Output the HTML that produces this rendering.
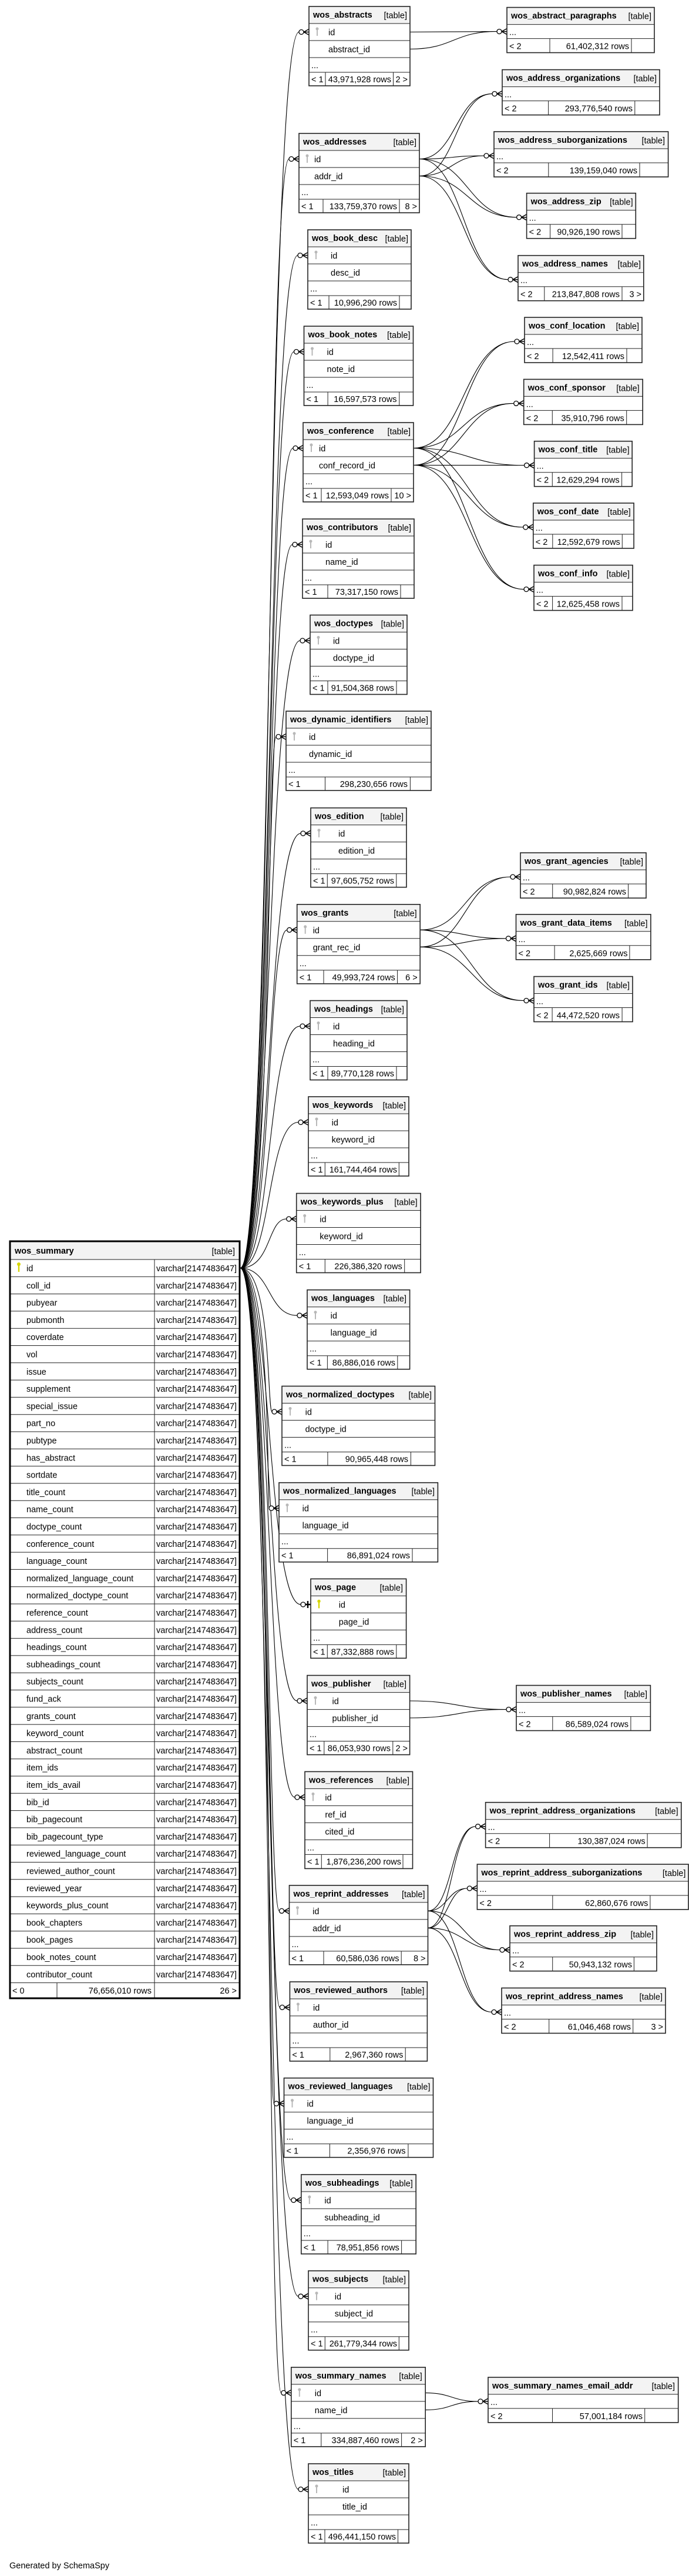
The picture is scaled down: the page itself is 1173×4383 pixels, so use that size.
<!DOCTYPE html>
<html><head><meta charset="utf-8"><style>
html,body{margin:0;padding:0;background:#fff}
svg{display:block}
text{font-family:"Liberation Sans",Arial,sans-serif;font-size:14.5px;fill:#000}
.b{font-weight:bold}
.e{text-anchor:end}
.ln{stroke:#222;stroke-width:1;fill:none}
.bx{fill:none;stroke:#222;stroke-width:1.6}
.hd{fill:#f3f3f3}
.wh{fill:#fff}
.ed{fill:none;stroke:#000;stroke-width:1.1}
.mk{fill:#fff;stroke:#000;stroke-width:1.3}
.cr{fill:none;stroke:#000;stroke-width:1.5}
.kg{stroke:#b8b8b8;stroke-width:2}
.kgc{fill:#b8b8b8}
.ky{stroke:#d6d600;stroke-width:2.4}
.kyc{fill:#d6d600}
</style></head><body>
<svg width="1173" height="4383" viewBox="0 0 1173 4383" xmlns="http://www.w3.org/2000/svg">
<!-- summary edges -->
<g class="ed">
<path d="M409 2157.6C462 2157.6 455 54.5 509 54.5"/>
<path d="M409 2157.6C462 2157.6 455 270.5 492 270.5"/>
<path d="M409 2157.6C462 2157.6 455 434.5 507 434.5"/>
<path d="M409 2157.6C462 2157.6 455 598.5 500.5 598.5"/>
<path d="M409 2157.6C462 2157.6 455 762.5 499 762.5"/>
<path d="M409 2157.6C462 2157.6 455 926.5 498 926.5"/>
<path d="M409 2157.6C462 2157.6 455 1090 511 1090"/>
<path d="M409 2157.6C462 2157.6 455 1253.5 470 1253.5"/>
<path d="M409 2157.6C462 2157.6 455 1418 512 1418"/>
<path d="M409 2157.6C462 2157.6 455 1582.3 488.7 1582.3"/>
<path d="M409 2157.6C462 2157.6 455 1746 511 1746"/>
<path d="M409 2157.6C462 2157.6 455 1909.5 508 1909.5"/>
<path d="M409 2157.6C462 2157.6 455 2074 487.7 2074"/>
<path d="M409 2157.6C462 2157.6 455 2238.2 506 2238.2"/>
<path d="M409 2157.6C462 2157.6 455 2402 463 2402"/>
<path d="M409 2157.6C462 2157.6 455 2566.2 458 2566.2"/>
<path d="M409 2157.6C462 2157.6 455 2730 512 2730"/>
<path d="M409 2157.6C462 2157.6 455 2894 506 2894"/>
<path d="M409 2157.6C462 2157.6 455 3058 502 3058"/>
<path d="M409 2157.6C462 2157.6 455 3251.4 475.5 3251.4"/>
<path d="M409 2157.6C462 2157.6 455 3415.5 476.4 3415.5"/>
<path d="M409 2157.6C462 2157.6 455 3579.2 466.5 3579.2"/>
<path d="M409 2157.6C462 2157.6 455 3743.5 495.8 3743.5"/>
<path d="M409 2157.6C462 2157.6 455 3907.2 508 3907.2"/>
<path d="M409 2157.6C462 2157.6 455 4071.4 478.8 4071.4"/>
<path d="M409 2157.6C462 2157.6 455 4235.5 508 4235.5"/>
<!-- parent-child edges -->
<path d="M698 54.5C772 54.5 772 53.6 846 53.6M698 83.5C772 83.5 772 53.6 846 53.6"/>
<path d="M714 270.5C776 270.5 776 159.6 838 159.6M714 299.5C776 299.5 776 159.6 838 159.6"/>
<path d="M714 270.5C769 270.5 769 265 824 265M714 299.5C769 299.5 769 265 824 265"/>
<path d="M714 270.5C797 270.5 797 369.7 879.6 369.7M714 299.5C797 299.5 797 369.7 879.6 369.7"/>
<path d="M714 270.5C789.5 270.5 789.5 475.7 865 475.7M714 299.5C789.5 299.5 789.5 475.7 865 475.7"/>
<path d="M704 762.5C790 762.5 790 581 876 581M704 791.5C790 791.5 790 581 876 581"/>
<path d="M704 762.5C789 762.5 789 686.4 874.7 686.4M704 791.5C789 791.5 789 686.4 874.7 686.4"/>
<path d="M704 762.5C798 762.5 798 791.7 892.6 791.7M704 791.5C798 791.5 798 791.7 892.6 791.7"/>
<path d="M704 762.5C797 762.5 797 897 890.8 897M704 791.5C797 791.5 797 897 890.8 897"/>
<path d="M704 762.5C798 762.5 798 1002.6 892 1002.6M704 791.5C798 791.5 798 1002.6 892 1002.6"/>
<path d="M715.2 1582.3C792 1582.3 792 1492 869 1492M715.2 1611.3C792 1611.3 792 1492 869 1492"/>
<path d="M715.2 1582.3C788 1582.3 788 1596.8 861.5 1596.8M715.2 1611.3C788 1611.3 788 1596.8 861.5 1596.8"/>
<path d="M715.2 1582.3C803.6 1582.3 803.6 1702.5 892 1702.5M715.2 1611.3C803.6 1611.3 803.6 1702.5 892 1702.5"/>
<path d="M697.6 2894C780 2894 780 2908.6 862 2908.6M697.6 2923C780 2923 780 2908.6 862 2908.6"/>
<path d="M728.5 3251.4C769 3251.4 769 3107.7 809.6 3107.7M728.5 3280.4C769 3280.4 769 3107.7 809.6 3107.7"/>
<path d="M728.5 3251.4C762 3251.4 762 3213 795.4 3213M728.5 3280.4C762 3280.4 762 3213 795.4 3213"/>
<path d="M728.5 3251.4C790 3251.4 790 3317.7 851 3317.7M728.5 3280.4C790 3280.4 790 3317.7 851 3317.7"/>
<path d="M728.5 3251.4C783 3251.4 783 3423.5 837 3423.5M728.5 3280.4C783 3280.4 783 3423.5 837 3423.5"/>
<path d="M724.2 4071.4C769 4071.4 769 4085.9 814 4085.9M724.2 4100.4C769 4100.4 769 4085.9 814 4085.9"/>
</g>
<!-- markers -->
<g class="cr">
<path d="M517 54.5L526 49.5M517 54.5L526 54.5M517 54.5L526 59.5"/>
<path d="M500 270.5L509 265.5M500 270.5L509 270.5M500 270.5L509 275.5"/>
<path d="M515 434.5L524 429.5M515 434.5L524 434.5M515 434.5L524 439.5"/>
<path d="M508.5 598.5L517.5 593.5M508.5 598.5L517.5 598.5M508.5 598.5L517.5 603.5"/>
<path d="M507 762.5L516 757.5M507 762.5L516 762.5M507 762.5L516 767.5"/>
<path d="M506 926.5L515 921.5M506 926.5L515 926.5M506 926.5L515 931.5"/>
<path d="M519 1090L528 1085M519 1090L528 1090M519 1090L528 1095"/>
<path d="M478 1253.5L487 1248.5M478 1253.5L487 1253.5M478 1253.5L487 1258.5"/>
<path d="M520 1418L529 1413M520 1418L529 1418M520 1418L529 1423"/>
<path d="M496.7 1582.3L505.7 1577.3M496.7 1582.3L505.7 1582.3M496.7 1582.3L505.7 1587.3"/>
<path d="M519 1746L528 1741M519 1746L528 1746M519 1746L528 1751"/>
<path d="M516 1909.5L525 1904.5M516 1909.5L525 1909.5M516 1909.5L525 1914.5"/>
<path d="M495.7 2074L504.7 2069M495.7 2074L504.7 2074M495.7 2074L504.7 2079"/>
<path d="M514 2238.2L523 2233.2M514 2238.2L523 2238.2M514 2238.2L523 2243.2"/>
<path d="M471 2402L480 2397M471 2402L480 2402M471 2402L480 2407"/>
<path d="M466 2566.2L475 2561.2M466 2566.2L475 2566.2M466 2566.2L475 2571.2"/>
<path d="M520 2730L529 2730M524 2724V2736" style="stroke-width:2.4"/>
<path d="M514 2894L523 2889M514 2894L523 2894M514 2894L523 2899"/>
<path d="M510 3058L519 3053M510 3058L519 3058M510 3058L519 3063"/>
<path d="M483.5 3251.4L492.5 3246.4M483.5 3251.4L492.5 3251.4M483.5 3251.4L492.5 3256.4"/>
<path d="M484.4 3415.5L493.4 3410.5M484.4 3415.5L493.4 3415.5M484.4 3415.5L493.4 3420.5"/>
<path d="M474.5 3579.2L483.5 3574.2M474.5 3579.2L483.5 3579.2M474.5 3579.2L483.5 3584.2"/>
<path d="M503.8 3743.5L512.8 3738.5M503.8 3743.5L512.8 3743.5M503.8 3743.5L512.8 3748.5"/>
<path d="M516 3907.2L525 3902.2M516 3907.2L525 3907.2M516 3907.2L525 3912.2"/>
<path d="M486.8 4071.4L495.8 4066.4M486.8 4071.4L495.8 4071.4M486.8 4071.4L495.8 4076.4"/>
<path d="M516 4235.5L525 4230.5M516 4235.5L525 4235.5M516 4235.5L525 4240.5"/>
<path d="M854 53.6L863 48.6M854 53.6L863 53.6M854 53.6L863 58.6"/>
<path d="M846 159.6L855 154.6M846 159.6L855 159.6M846 159.6L855 164.6"/>
<path d="M832 265L841 260M832 265L841 265M832 265L841 270"/>
<path d="M887.6 369.7L896.6 364.7M887.6 369.7L896.6 369.7M887.6 369.7L896.6 374.7"/>
<path d="M873 475.7L882 470.7M873 475.7L882 475.7M873 475.7L882 480.7"/>
<path d="M884 581L893 576M884 581L893 581M884 581L893 586"/>
<path d="M882.7 686.4L891.7 681.4M882.7 686.4L891.7 686.4M882.7 686.4L891.7 691.4"/>
<path d="M900.6 791.7L909.6 786.7M900.6 791.7L909.6 791.7M900.6 791.7L909.6 796.7"/>
<path d="M898.8 897L907.8 892M898.8 897L907.8 897M898.8 897L907.8 902"/>
<path d="M900 1002.6L909 997.6M900 1002.6L909 1002.6M900 1002.6L909 1007.6"/>
<path d="M877 1492L886 1487M877 1492L886 1492M877 1492L886 1497"/>
<path d="M869.5 1596.8L878.5 1591.8M869.5 1596.8L878.5 1596.8M869.5 1596.8L878.5 1601.8"/>
<path d="M900 1702.5L909 1697.5M900 1702.5L909 1702.5M900 1702.5L909 1707.5"/>
<path d="M870 2908.6L879 2903.6M870 2908.6L879 2908.6M870 2908.6L879 2913.6"/>
<path d="M817.6 3107.7L826.6 3102.7M817.6 3107.7L826.6 3107.7M817.6 3107.7L826.6 3112.7"/>
<path d="M803.4 3213L812.4 3208M803.4 3213L812.4 3213M803.4 3213L812.4 3218"/>
<path d="M859 3317.7L868 3312.7M859 3317.7L868 3317.7M859 3317.7L868 3322.7"/>
<path d="M845 3423.5L854 3418.5M845 3423.5L854 3423.5M845 3423.5L854 3428.5"/>
<path d="M822 4085.9L831 4080.9M822 4085.9L831 4085.9M822 4085.9L831 4090.9"/>
</g>
<g class="mk">
<circle cx="513" cy="54.5" r="4"/><circle cx="496" cy="270.5" r="4"/><circle cx="511" cy="434.5" r="4"/><circle cx="504.5" cy="598.5" r="4"/><circle cx="503" cy="762.5" r="4"/><circle cx="502" cy="926.5" r="4"/><circle cx="515" cy="1090" r="4"/><circle cx="474" cy="1253.5" r="4"/><circle cx="516" cy="1418" r="4"/><circle cx="492.7" cy="1582.3" r="4"/><circle cx="515" cy="1746" r="4"/><circle cx="512" cy="1909.5" r="4"/><circle cx="491.7" cy="2074" r="4"/><circle cx="510" cy="2238.2" r="4"/><circle cx="467" cy="2402" r="4"/><circle cx="462" cy="2566.2" r="4"/><circle cx="516" cy="2730" r="4"/><circle cx="510" cy="2894" r="4"/><circle cx="506" cy="3058" r="4"/><circle cx="479.5" cy="3251.4" r="4"/><circle cx="480.4" cy="3415.5" r="4"/><circle cx="470.5" cy="3579.2" r="4"/><circle cx="499.8" cy="3743.5" r="4"/><circle cx="512" cy="3907.2" r="4"/><circle cx="482.8" cy="4071.4" r="4"/><circle cx="512" cy="4235.5" r="4"/>
<circle cx="850" cy="53.6" r="4"/><circle cx="842" cy="159.6" r="4"/><circle cx="828" cy="265" r="4"/><circle cx="883.6" cy="369.7" r="4"/><circle cx="869" cy="475.7" r="4"/><circle cx="880" cy="581" r="4"/><circle cx="878.7" cy="686.4" r="4"/><circle cx="896.6" cy="791.7" r="4"/><circle cx="894.8" cy="897" r="4"/><circle cx="896" cy="1002.6" r="4"/><circle cx="873" cy="1492" r="4"/><circle cx="865.5" cy="1596.8" r="4"/><circle cx="896" cy="1702.5" r="4"/><circle cx="866" cy="2908.6" r="4"/><circle cx="813.6" cy="3107.7" r="4"/><circle cx="799.4" cy="3213" r="4"/><circle cx="855" cy="3317.7" r="4"/><circle cx="841" cy="3423.5" r="4"/><circle cx="818" cy="4085.9" r="4"/>
</g>

<!-- wos_summary -->
<g transform="translate(17,2112)">
<rect width="391" height="1288" class="wh"/>
<rect width="391" height="31" class="hd"/>
<path class="ln" d="M0 31H391M0 60.3H391M0 89.6H391M0 118.9H391M0 148.2H391M0 177.5H391M0 206.8H391M0 236.1H391M0 265.4H391M0 294.7H391M0 324H391M0 353.3H391M0 382.6H391M0 411.9H391M0 441.2H391M0 470.5H391M0 499.8H391M0 529.1H391M0 558.4H391M0 587.7H391M0 617H391M0 646.3H391M0 675.6H391M0 704.9H391M0 734.2H391M0 763.5H391M0 792.8H391M0 822.1H391M0 851.4H391M0 880.7H391M0 910H391M0 939.3H391M0 968.6H391M0 997.9H391M0 1027.2H391M0 1056.5H391M0 1085.8H391M0 1115.1H391M0 1144.4H391M0 1173.7H391M0 1203H391M0 1232.3H391M0 1261.6H391M246 31V1288M80 1261.6V1288"/>
<rect width="391" height="1288" fill="none" stroke="#000" stroke-width="3"/>
<text class="b" x="8" y="21">wos_summary</text><text class="e" x="383" y="22">[table]</text>
<path class="ky" d="M15 41V52"/><circle class="kyc" cx="15" cy="39" r="3"/>
<text x="28" y="51">id</text><text x="249" y="51">varchar[2147483647]</text>
<text x="28" y="80.3">coll_id</text><text x="249" y="80.3">varchar[2147483647]</text>
<text x="28" y="109.6">pubyear</text><text x="249" y="109.6">varchar[2147483647]</text>
<text x="28" y="138.9">pubmonth</text><text x="249" y="138.9">varchar[2147483647]</text>
<text x="28" y="168.2">coverdate</text><text x="249" y="168.2">varchar[2147483647]</text>
<text x="28" y="197.5">vol</text><text x="249" y="197.5">varchar[2147483647]</text>
<text x="28" y="226.8">issue</text><text x="249" y="226.8">varchar[2147483647]</text>
<text x="28" y="256.1">supplement</text><text x="249" y="256.1">varchar[2147483647]</text>
<text x="28" y="285.4">special_issue</text><text x="249" y="285.4">varchar[2147483647]</text>
<text x="28" y="314.7">part_no</text><text x="249" y="314.7">varchar[2147483647]</text>
<text x="28" y="344">pubtype</text><text x="249" y="344">varchar[2147483647]</text>
<text x="28" y="373.3">has_abstract</text><text x="249" y="373.3">varchar[2147483647]</text>
<text x="28" y="402.6">sortdate</text><text x="249" y="402.6">varchar[2147483647]</text>
<text x="28" y="431.9">title_count</text><text x="249" y="431.9">varchar[2147483647]</text>
<text x="28" y="461.2">name_count</text><text x="249" y="461.2">varchar[2147483647]</text>
<text x="28" y="490.5">doctype_count</text><text x="249" y="490.5">varchar[2147483647]</text>
<text x="28" y="519.8">conference_count</text><text x="249" y="519.8">varchar[2147483647]</text>
<text x="28" y="549.1">language_count</text><text x="249" y="549.1">varchar[2147483647]</text>
<text x="28" y="578.4">normalized_language_count</text><text x="249" y="578.4">varchar[2147483647]</text>
<text x="28" y="607.7">normalized_doctype_count</text><text x="249" y="607.7">varchar[2147483647]</text>
<text x="28" y="637">reference_count</text><text x="249" y="637">varchar[2147483647]</text>
<text x="28" y="666.3">address_count</text><text x="249" y="666.3">varchar[2147483647]</text>
<text x="28" y="695.6">headings_count</text><text x="249" y="695.6">varchar[2147483647]</text>
<text x="28" y="724.9">subheadings_count</text><text x="249" y="724.9">varchar[2147483647]</text>
<text x="28" y="754.2">subjects_count</text><text x="249" y="754.2">varchar[2147483647]</text>
<text x="28" y="783.5">fund_ack</text><text x="249" y="783.5">varchar[2147483647]</text>
<text x="28" y="812.8">grants_count</text><text x="249" y="812.8">varchar[2147483647]</text>
<text x="28" y="842.1">keyword_count</text><text x="249" y="842.1">varchar[2147483647]</text>
<text x="28" y="871.4">abstract_count</text><text x="249" y="871.4">varchar[2147483647]</text>
<text x="28" y="900.7">item_ids</text><text x="249" y="900.7">varchar[2147483647]</text>
<text x="28" y="930">item_ids_avail</text><text x="249" y="930">varchar[2147483647]</text>
<text x="28" y="959.3">bib_id</text><text x="249" y="959.3">varchar[2147483647]</text>
<text x="28" y="988.6">bib_pagecount</text><text x="249" y="988.6">varchar[2147483647]</text>
<text x="28" y="1017.9">bib_pagecount_type</text><text x="249" y="1017.9">varchar[2147483647]</text>
<text x="28" y="1047.2">reviewed_language_count</text><text x="249" y="1047.2">varchar[2147483647]</text>
<text x="28" y="1076.5">reviewed_author_count</text><text x="249" y="1076.5">varchar[2147483647]</text>
<text x="28" y="1105.8">reviewed_year</text><text x="249" y="1105.8">varchar[2147483647]</text>
<text x="28" y="1135.1">keywords_plus_count</text><text x="249" y="1135.1">varchar[2147483647]</text>
<text x="28" y="1164.4">book_chapters</text><text x="249" y="1164.4">varchar[2147483647]</text>
<text x="28" y="1193.7">book_pages</text><text x="249" y="1193.7">varchar[2147483647]</text>
<text x="28" y="1223">book_notes_count</text><text x="249" y="1223">varchar[2147483647]</text>
<text x="28" y="1252.3">contributor_count</text><text x="249" y="1252.3">varchar[2147483647]</text>
<text x="4" y="1280">&lt; 0</text><text class="e" x="241" y="1280">76,656,010 rows</text><text class="e" x="386" y="1280">26 &gt;</text>
</g>

<!-- parent tables (2 rows) -->
<g transform="translate(526,11)"><rect width="172" height="135" class="wh"/><rect width="172" height="29" class="hd"/><path class="ln" d="M0 29H172M0 58H172M0 87H172M0 112H172M28 112V135M143.5 112V135"/><rect width="172" height="135" class="bx"/><text class="b" x="7" y="19">wos_abstracts</text><text class="e" x="167" y="20">[table]</text><path class="kg" d="M14 40V50"/><circle class="kgc" cx="14" cy="38" r="2.5"/><text x="33" y="49">id</text><text x="33" y="78">abstract_id</text><text x="4" y="105">...</text><text x="4" y="129">&lt; 1</text><text class="e" x="140" y="129">43,971,928 rows</text><text class="e" x="168" y="129">2 &gt;</text></g>

<g transform="translate(509,227)"><rect width="205" height="135" class="wh"/><rect width="205" height="29" class="hd"/><path class="ln" d="M0 29H205M0 58H205M0 87H205M0 112H205M41 112V135M171 112V135"/><rect width="205" height="135" class="bx"/><text class="b" x="7" y="19">wos_addresses</text><text class="e" x="200" y="20">[table]</text><path class="kg" d="M14 40V50"/><circle class="kgc" cx="14" cy="38" r="2.5"/><text x="26" y="49">id</text><text x="26" y="78">addr_id</text><text x="4" y="105">...</text><text x="4" y="129">&lt; 1</text><text class="e" x="167" y="129">133,759,370 rows</text><text class="e" x="201" y="129">8 &gt;</text></g>

<g transform="translate(524,391)"><rect width="176" height="135" class="wh"/><rect width="176" height="29" class="hd"/><path class="ln" d="M0 29H176M0 58H176M0 87H176M0 112H176M36 112V135M156 112V135"/><rect width="176" height="135" class="bx"/><text class="b" x="7" y="19">wos_book_desc</text><text class="e" x="171" y="20">[table]</text><path class="kg" d="M14 40V50"/><circle class="kgc" cx="14" cy="38" r="2.5"/><text x="39" y="49">id</text><text x="39" y="78">desc_id</text><text x="4" y="105">...</text><text x="4" y="129">&lt; 1</text><text class="e" x="152" y="129">10,996,290 rows</text></g>

<g transform="translate(517.5,555)"><rect width="186" height="135" class="wh"/><rect width="186" height="29" class="hd"/><path class="ln" d="M0 29H186M0 58H186M0 87H186M0 112H186M40.6 112V135M162.3 112V135"/><rect width="186" height="135" class="bx"/><text class="b" x="7" y="19">wos_book_notes</text><text class="e" x="181" y="20">[table]</text><path class="kg" d="M14 40V50"/><circle class="kgc" cx="14" cy="38" r="2.5"/><text x="39" y="49">id</text><text x="39" y="78">note_id</text><text x="4" y="105">...</text><text x="4" y="129">&lt; 1</text><text class="e" x="158" y="129">16,597,573 rows</text></g>

<g transform="translate(516,719)"><rect width="188" height="135" class="wh"/><rect width="188" height="29" class="hd"/><path class="ln" d="M0 29H188M0 58H188M0 87H188M0 112H188M31 112V135M150 112V135"/><rect width="188" height="135" class="bx"/><text class="b" x="7" y="19">wos_conference</text><text class="e" x="183" y="20">[table]</text><path class="kg" d="M14 40V50"/><circle class="kgc" cx="14" cy="38" r="2.5"/><text x="27" y="49">id</text><text x="27" y="78">conf_record_id</text><text x="4" y="105">...</text><text x="4" y="129">&lt; 1</text><text class="e" x="146" y="129">12,593,049 rows</text><text class="e" x="184" y="129">10 &gt;</text></g>

<g transform="translate(515,883)"><rect width="190" height="135" class="wh"/><rect width="190" height="29" class="hd"/><path class="ln" d="M0 29H190M0 58H190M0 87H190M0 112H190M43 112V135M167 112V135"/><rect width="190" height="135" class="bx"/><text class="b" x="7" y="19">wos_contributors</text><text class="e" x="185" y="20">[table]</text><path class="kg" d="M14 40V50"/><circle class="kgc" cx="14" cy="38" r="2.5"/><text x="39" y="49">id</text><text x="39" y="78">name_id</text><text x="4" y="105">...</text><text x="4" y="129">&lt; 1</text><text class="e" x="163" y="129">73,317,150 rows</text></g>

<g transform="translate(528,1046.5)"><rect width="165" height="135" class="wh"/><rect width="165" height="29" class="hd"/><path class="ln" d="M0 29H165M0 58H165M0 87H165M0 112H165M30 112V135M147 112V135"/><rect width="165" height="135" class="bx"/><text class="b" x="7" y="19">wos_doctypes</text><text class="e" x="160" y="20">[table]</text><path class="kg" d="M14 40V50"/><circle class="kgc" cx="14" cy="38" r="2.5"/><text x="39" y="49">id</text><text x="39" y="78">doctype_id</text><text x="4" y="105">...</text><text x="4" y="129">&lt; 1</text><text class="e" x="143" y="129">91,504,368 rows</text></g>

<g transform="translate(487,1210)"><rect width="247" height="135" class="wh"/><rect width="247" height="29" class="hd"/><path class="ln" d="M0 29H247M0 58H247M0 87H247M0 112H247M66.5 112V135M211.4 112V135"/><rect width="247" height="135" class="bx"/><text class="b" x="7" y="19">wos_dynamic_identifiers</text><text class="e" x="242" y="20">[table]</text><path class="kg" d="M14 40V50"/><circle class="kgc" cx="14" cy="38" r="2.5"/><text x="39" y="49">id</text><text x="39" y="78">dynamic_id</text><text x="4" y="105">...</text><text x="4" y="129">&lt; 1</text><text class="e" x="207" y="129">298,230,656 rows</text></g>

<g transform="translate(529,1374.6)"><rect width="163" height="135" class="wh"/><rect width="163" height="29" class="hd"/><path class="ln" d="M0 29H163M0 58H163M0 87H163M0 112H163M28.3 112V135M145.8 112V135"/><rect width="163" height="135" class="bx"/><text class="b" x="7" y="19">wos_edition</text><text class="e" x="158" y="20">[table]</text><path class="kg" d="M14 40V50"/><circle class="kgc" cx="14" cy="38" r="2.5"/><text x="47" y="49">id</text><text x="47" y="78">edition_id</text><text x="4" y="105">...</text><text x="4" y="129">&lt; 1</text><text class="e" x="142" y="129">97,605,752 rows</text></g>

<g transform="translate(505.7,1538.8)"><rect width="209.5" height="135" class="wh"/><rect width="209.5" height="29" class="hd"/><path class="ln" d="M0 29H209.5M0 58H209.5M0 87H209.5M0 112H209.5M45.3 112V135M170.8 112V135"/><rect width="209.5" height="135" class="bx"/><text class="b" x="7" y="19">wos_grants</text><text class="e" x="204" y="20">[table]</text><path class="kg" d="M14 40V50"/><circle class="kgc" cx="14" cy="38" r="2.5"/><text x="27" y="49">id</text><text x="27" y="78">grant_rec_id</text><text x="4" y="105">...</text><text x="4" y="129">&lt; 1</text><text class="e" x="167" y="129">49,993,724 rows</text><text class="e" x="205" y="129">6 &gt;</text></g>

<g transform="translate(528,1702.5)"><rect width="165" height="135" class="wh"/><rect width="165" height="29" class="hd"/><path class="ln" d="M0 29H165M0 58H165M0 87H165M0 112H165M30 112V135M147 112V135"/><rect width="165" height="135" class="bx"/><text class="b" x="7" y="19">wos_headings</text><text class="e" x="160" y="20">[table]</text><path class="kg" d="M14 40V50"/><circle class="kgc" cx="14" cy="38" r="2.5"/><text x="39" y="49">id</text><text x="39" y="78">heading_id</text><text x="4" y="105">...</text><text x="4" y="129">&lt; 1</text><text class="e" x="143" y="129">89,770,128 rows</text></g>

<g transform="translate(525,1866)"><rect width="171" height="135" class="wh"/><rect width="171" height="29" class="hd"/><path class="ln" d="M0 29H171M0 58H171M0 87H171M0 112H171M28.3 112V135M154.3 112V135"/><rect width="171" height="135" class="bx"/><text class="b" x="7" y="19">wos_keywords</text><text class="e" x="166" y="20">[table]</text><path class="kg" d="M14 40V50"/><circle class="kgc" cx="14" cy="38" r="2.5"/><text x="39.6" y="49">id</text><text x="39.6" y="78">keyword_id</text><text x="4" y="105">...</text><text x="4" y="129">&lt; 1</text><text class="e" x="151" y="129">161,744,464 rows</text></g>

<g transform="translate(504.7,2030.5)"><rect width="211.4" height="135" class="wh"/><rect width="211.4" height="29" class="hd"/><path class="ln" d="M0 29H211.4M0 58H211.4M0 87H211.4M0 112H211.4M48.6 112V135M184 112V135"/><rect width="211.4" height="135" class="bx"/><text class="b" x="7" y="19">wos_keywords_plus</text><text class="e" x="206" y="20">[table]</text><path class="kg" d="M14 40V50"/><circle class="kgc" cx="14" cy="38" r="2.5"/><text x="39.6" y="49">id</text><text x="39.6" y="78">keyword_id</text><text x="4" y="105">...</text><text x="4" y="129">&lt; 1</text><text class="e" x="180" y="129">226,386,320 rows</text></g>

<g transform="translate(523,2194.7)"><rect width="174.6" height="135" class="wh"/><rect width="174.6" height="29" class="hd"/><path class="ln" d="M0 29H174.6M0 58H174.6M0 87H174.6M0 112H174.6M34.4 112V135M153.8 112V135"/><rect width="174.6" height="135" class="bx"/><text class="b" x="7" y="19">wos_languages</text><text class="e" x="169" y="20">[table]</text><path class="kg" d="M14 40V50"/><circle class="kgc" cx="14" cy="38" r="2.5"/><text x="39.6" y="49">id</text><text x="39.6" y="78">language_id</text><text x="4" y="105">...</text><text x="4" y="129">&lt; 1</text><text class="e" x="150" y="129">86,886,016 rows</text></g>

<g transform="translate(480,2358.5)"><rect width="260.5" height="135" class="wh"/><rect width="260.5" height="29" class="hd"/><path class="ln" d="M0 29H260.5M0 58H260.5M0 87H260.5M0 112H260.5M77.9 112V135M219.4 112V135"/><rect width="260.5" height="135" class="bx"/><text class="b" x="7" y="19">wos_normalized_doctypes</text><text class="e" x="255" y="20">[table]</text><path class="kg" d="M14 40V50"/><circle class="kgc" cx="14" cy="38" r="2.5"/><text x="39.6" y="49">id</text><text x="39.6" y="78">doctype_id</text><text x="4" y="105">...</text><text x="4" y="129">&lt; 1</text><text class="e" x="215" y="129">90,965,448 rows</text></g>

<g transform="translate(475,2522.7)"><rect width="270.4" height="135" class="wh"/><rect width="270.4" height="29" class="hd"/><path class="ln" d="M0 29H270.4M0 58H270.4M0 87H270.4M0 112H270.4M82.6 112V135M227 112V135"/><rect width="270.4" height="135" class="bx"/><text class="b" x="7" y="19">wos_normalized_languages</text><text class="e" x="265" y="20">[table]</text><path class="kg" d="M14 40V50"/><circle class="kgc" cx="14" cy="38" r="2.5"/><text x="39.6" y="49">id</text><text x="39.6" y="78">language_id</text><text x="4" y="105">...</text><text x="4" y="129">&lt; 1</text><text class="e" x="223" y="129">86,891,024 rows</text></g>

<g transform="translate(529,2686.4)"><rect width="162.6" height="135" class="wh"/><rect width="162.6" height="29" class="hd"/><path class="ln" d="M0 29H162.6M0 58H162.6M0 87H162.6M0 112H162.6M28.3 112V135M145.8 112V135"/><rect width="162.6" height="135" class="bx"/><text class="b" x="7" y="19">wos_page</text><text class="e" x="157" y="20">[table]</text><path class="ky" d="M14 40V50"/><circle class="kyc" cx="14" cy="38" r="2.7"/><text x="47.7" y="49">id</text><text x="47.7" y="78">page_id</text><text x="4" y="105">...</text><text x="4" y="129">&lt; 1</text><text class="e" x="142" y="129">87,332,888 rows</text></g>

<g transform="translate(523,2850.6)"><rect width="174.6" height="135" class="wh"/><rect width="174.6" height="29" class="hd"/><path class="ln" d="M0 29H174.6M0 58H174.6M0 87H174.6M0 112H174.6M28.8 112V135M145.8 112V135"/><rect width="174.6" height="135" class="bx"/><text class="b" x="7" y="19">wos_publisher</text><text class="e" x="169" y="20">[table]</text><path class="kg" d="M14 40V50"/><circle class="kgc" cx="14" cy="38" r="2.5"/><text x="42.5" y="49">id</text><text x="42.5" y="78">publisher_id</text><text x="4" y="105">...</text><text x="4" y="129">&lt; 1</text><text class="e" x="142" y="129">86,053,930 rows</text><text class="e" x="171" y="129">2 &gt;</text></g>

<g transform="translate(519,3014.4)"><rect width="183.5" height="165" class="wh"/><rect width="183.5" height="29" class="hd"/><path class="ln" d="M0 29H183.5M0 58H183.5M0 87H183.5M0 116H183.5M0 141H183.5M28.3 141V165M167 141V165"/><rect width="183.5" height="165" class="bx"/><text class="b" x="7" y="19">wos_references</text><text class="e" x="178" y="20">[table]</text><path class="kg" d="M14 40V50"/><circle class="kgc" cx="14" cy="38" r="2.5"/><text x="34.4" y="49">id</text><text x="34.4" y="78">ref_id</text><text x="34.4" y="107">cited_id</text><text x="4" y="134">...</text><text x="4" y="158">&lt; 1</text><text class="e" x="164" y="158">1,876,236,200 rows</text></g>

<g transform="translate(492.5,3207.9)"><rect width="236" height="135" class="wh"/><rect width="236" height="29" class="hd"/><path class="ln" d="M0 29H236M0 58H236M0 87H236M0 112H236M58.5 112V135M190.7 112V135"/><rect width="236" height="135" class="bx"/><text class="b" x="7" y="19">wos_reprint_addresses</text><text class="e" x="231" y="20">[table]</text><path class="kg" d="M14 40V50"/><circle class="kgc" cx="14" cy="38" r="2.5"/><text x="39.6" y="49">id</text><text x="39.6" y="78">addr_id</text><text x="4" y="105">...</text><text x="4" y="129">&lt; 1</text><text class="e" x="187" y="129">60,586,036 rows</text><text class="e" x="232" y="129">8 &gt;</text></g>

<g transform="translate(493.4,3372)"><rect width="234" height="135" class="wh"/><rect width="234" height="29" class="hd"/><path class="ln" d="M0 29H234M0 58H234M0 87H234M0 112H234M68.4 112V135M196.8 112V135"/><rect width="234" height="135" class="bx"/><text class="b" x="7" y="19">wos_reviewed_authors</text><text class="e" x="229" y="20">[table]</text><path class="kg" d="M14 40V50"/><circle class="kgc" cx="14" cy="38" r="2.5"/><text x="39.6" y="49">id</text><text x="39.6" y="78">author_id</text><text x="4" y="105">...</text><text x="4" y="129">&lt; 1</text><text class="e" x="193" y="129">2,967,360 rows</text></g>

<g transform="translate(483.5,3535.7)"><rect width="254" height="135" class="wh"/><rect width="254" height="29" class="hd"/><path class="ln" d="M0 29H254M0 58H254M0 87H254M0 112H254M77.9 112V135M211.4 112V135"/><rect width="254" height="135" class="bx"/><text class="b" x="7" y="19">wos_reviewed_languages</text><text class="e" x="249" y="20">[table]</text><path class="kg" d="M14 40V50"/><circle class="kgc" cx="14" cy="38" r="2.5"/><text x="39" y="49">id</text><text x="39" y="78">language_id</text><text x="4" y="105">...</text><text x="4" y="129">&lt; 1</text><text class="e" x="207" y="129">2,356,976 rows</text></g>

<g transform="translate(512.8,3700)"><rect width="195.4" height="135" class="wh"/><rect width="195.4" height="29" class="hd"/><path class="ln" d="M0 29H195.4M0 58H195.4M0 87H195.4M0 112H195.4M45.3 112V135M170.8 112V135"/><rect width="195.4" height="135" class="bx"/><text class="b" x="7" y="19">wos_subheadings</text><text class="e" x="190" y="20">[table]</text><path class="kg" d="M14 40V50"/><circle class="kgc" cx="14" cy="38" r="2.5"/><text x="39.6" y="49">id</text><text x="39.6" y="78">subheading_id</text><text x="4" y="105">...</text><text x="4" y="129">&lt; 1</text><text class="e" x="167" y="129">78,951,856 rows</text></g>

<g transform="translate(525,3863.7)"><rect width="171" height="135" class="wh"/><rect width="171" height="29" class="hd"/><path class="ln" d="M0 29H171M0 58H171M0 87H171M0 112H171M28.3 112V135M154.3 112V135"/><rect width="171" height="135" class="bx"/><text class="b" x="7" y="19">wos_subjects</text><text class="e" x="166" y="20">[table]</text><path class="kg" d="M14 40V50"/><circle class="kgc" cx="14" cy="38" r="2.5"/><text x="44.8" y="49">id</text><text x="44.8" y="78">subject_id</text><text x="4" y="105">...</text><text x="4" y="129">&lt; 1</text><text class="e" x="151" y="129">261,779,344 rows</text></g>

<g transform="translate(495.8,4027.9)"><rect width="228.4" height="135" class="wh"/><rect width="228.4" height="29" class="hd"/><path class="ln" d="M0 29H228.4M0 58H228.4M0 87H228.4M0 112H228.4M51 112V135M187.8 112V135"/><rect width="228.4" height="135" class="bx"/><text class="b" x="7" y="19">wos_summary_names</text><text class="e" x="223" y="20">[table]</text><path class="kg" d="M14 40V50"/><circle class="kgc" cx="14" cy="38" r="2.5"/><text x="40" y="49">id</text><text x="40" y="78">name_id</text><text x="4" y="105">...</text><text x="4" y="129">&lt; 1</text><text class="e" x="184" y="129">334,887,460 rows</text><text class="e" x="224" y="129">2 &gt;</text></g>

<g transform="translate(525,4192)"><rect width="171" height="135" class="wh"/><rect width="171" height="29" class="hd"/><path class="ln" d="M0 29H171M0 58H171M0 87H171M0 112H171M28 112V135M152.5 112V135"/><rect width="171" height="135" class="bx"/><text class="b" x="7" y="19">wos_titles</text><text class="e" x="166" y="20">[table]</text><path class="kg" d="M14 40V50"/><circle class="kgc" cx="14" cy="38" r="2.5"/><text x="58" y="49">id</text><text x="58" y="78">title_id</text><text x="4" y="105">...</text><text x="4" y="129">&lt; 1</text><text class="e" x="149" y="129">496,441,150 rows</text></g>

<!-- child tables -->
<g transform="translate(863,12.6)"><rect width="251" height="77" class="wh"/><rect width="251" height="29" class="hd"/><path class="ln" d="M0 29H251M0 53H251M73 53V77M212 53V77"/><rect width="251" height="77" class="bx"/><text class="b" x="7" y="19">wos_abstract_paragraphs</text><text class="e" x="246" y="20">[table]</text><text x="4" y="47">...</text><text x="4" y="71">&lt; 2</text><text class="e" x="208" y="71">61,402,312 rows</text></g>
<g transform="translate(855,118.6)"><rect width="268" height="77" class="wh"/><rect width="268" height="29" class="hd"/><path class="ln" d="M0 29H268M0 53H268M78.6 53V77M225.8 53V77"/><rect width="268" height="77" class="bx"/><text class="b" x="7" y="19">wos_address_organizations</text><text class="e" x="263" y="20">[table]</text><text x="4" y="47">...</text><text x="4" y="71">&lt; 2</text><text class="e" x="222" y="71">293,776,540 rows</text></g>
<g transform="translate(841,224)"><rect width="296.6" height="77" class="wh"/><rect width="296.6" height="29" class="hd"/><path class="ln" d="M0 29H296.6M0 53H296.6M92.8 53V77M248 53V77"/><rect width="296.6" height="77" class="bx"/><text class="b" x="7" y="19">wos_address_suborganizations</text><text class="e" x="291" y="20">[table]</text><text x="4" y="47">...</text><text x="4" y="71">&lt; 2</text><text class="e" x="244" y="71">139,159,040 rows</text></g>
<g transform="translate(896.6,328.7)"><rect width="185.7" height="77" class="wh"/><rect width="185.7" height="29" class="hd"/><path class="ln" d="M0 29H185.7M0 53H185.7M40 53V77M162.4 53V77"/><rect width="185.7" height="77" class="bx"/><text class="b" x="7" y="19">wos_address_zip</text><text class="e" x="181" y="20">[table]</text><text x="4" y="47">...</text><text x="4" y="71">&lt; 2</text><text class="e" x="159" y="71">90,926,190 rows</text></g>
<g transform="translate(882,434.7)"><rect width="213.8" height="77" class="wh"/><rect width="213.8" height="29" class="hd"/><path class="ln" d="M0 29H213.8M0 53H213.8M44.8 53V77M177 53V77"/><rect width="213.8" height="77" class="bx"/><text class="b" x="7" y="19">wos_address_names</text><text class="e" x="209" y="20">[table]</text><text x="4" y="47">...</text><text x="4" y="71">&lt; 2</text><text class="e" x="173" y="71">213,847,808 rows</text><text class="e" x="210" y="71">3 &gt;</text></g>
<g transform="translate(893,540)"><rect width="200" height="77" class="wh"/><rect width="200" height="29" class="hd"/><path class="ln" d="M0 29H200M0 53H200M48.1 53V77M174 53V77"/><rect width="200" height="77" class="bx"/><text class="b" x="7" y="19">wos_conf_location</text><text class="e" x="195" y="20">[table]</text><text x="4" y="47">...</text><text x="4" y="71">&lt; 2</text><text class="e" x="170" y="71">12,542,411 rows</text></g>
<g transform="translate(891.7,645.4)"><rect width="202.5" height="77" class="wh"/><rect width="202.5" height="29" class="hd"/><path class="ln" d="M0 29H202.5M0 53H202.5M48.6 53V77M175 53V77"/><rect width="202.5" height="77" class="bx"/><text class="b" x="7" y="19">wos_conf_sponsor</text><text class="e" x="197" y="20">[table]</text><text x="4" y="47">...</text><text x="4" y="71">&lt; 2</text><text class="e" x="171" y="71">35,910,796 rows</text></g>
<g transform="translate(909.6,750.7)"><rect width="166.6" height="77" class="wh"/><rect width="166.6" height="29" class="hd"/><path class="ln" d="M0 29H166.6M0 53H166.6M30.7 53V77M149 53V77"/><rect width="166.6" height="77" class="bx"/><text class="b" x="7" y="19">wos_conf_title</text><text class="e" x="162" y="20">[table]</text><text x="4" y="47">...</text><text x="4" y="71">&lt; 2</text><text class="e" x="145" y="71">12,629,294 rows</text></g>
<g transform="translate(907.8,856)"><rect width="171.3" height="77" class="wh"/><rect width="171.3" height="29" class="hd"/><path class="ln" d="M0 29H171.3M0 53H171.3M33 53V77M151.5 53V77"/><rect width="171.3" height="77" class="bx"/><text class="b" x="7" y="19">wos_conf_date</text><text class="e" x="166" y="20">[table]</text><text x="4" y="47">...</text><text x="4" y="71">&lt; 2</text><text class="e" x="148" y="71">12,592,679 rows</text></g>
<g transform="translate(909,961.6)"><rect width="168" height="77" class="wh"/><rect width="168" height="29" class="hd"/><path class="ln" d="M0 29H168M0 53H168M31.6 53V77M150 53V77"/><rect width="168" height="77" class="bx"/><text class="b" x="7" y="19">wos_conf_info</text><text class="e" x="163" y="20">[table]</text><text x="4" y="47">...</text><text x="4" y="71">&lt; 2</text><text class="e" x="146" y="71">12,625,458 rows</text></g>
<g transform="translate(886,1451)"><rect width="214" height="77" class="wh"/><rect width="214" height="29" class="hd"/><path class="ln" d="M0 29H214M0 53H214M54.7 53V77M183.6 53V77"/><rect width="214" height="77" class="bx"/><text class="b" x="7" y="19">wos_grant_agencies</text><text class="e" x="209" y="20">[table]</text><text x="4" y="47">...</text><text x="4" y="71">&lt; 2</text><text class="e" x="180" y="71">90,982,824 rows</text></g>
<g transform="translate(878.5,1555.8)"><rect width="229.4" height="77" class="wh"/><rect width="229.4" height="29" class="hd"/><path class="ln" d="M0 29H229.4M0 53H229.4M65.6 53V77M193.4 53V77"/><rect width="229.4" height="77" class="bx"/><text class="b" x="7" y="19">wos_grant_data_items</text><text class="e" x="224" y="20">[table]</text><text x="4" y="47">...</text><text x="4" y="71">&lt; 2</text><text class="e" x="190" y="71">2,625,669 rows</text></g>
<g transform="translate(909,1661.5)"><rect width="168" height="77" class="wh"/><rect width="168" height="29" class="hd"/><path class="ln" d="M0 29H168M0 53H168M31.1 53V77M150.1 53V77"/><rect width="168" height="77" class="bx"/><text class="b" x="7" y="19">wos_grant_ids</text><text class="e" x="163" y="20">[table]</text><text x="4" y="47">...</text><text x="4" y="71">&lt; 2</text><text class="e" x="146" y="71">44,472,520 rows</text></g>
<g transform="translate(879,2867.6)"><rect width="228.4" height="77" class="wh"/><rect width="228.4" height="29" class="hd"/><path class="ln" d="M0 29H228.4M0 53H228.4M61.8 53V77M194.9 53V77"/><rect width="228.4" height="77" class="bx"/><text class="b" x="7" y="19">wos_publisher_names</text><text class="e" x="223" y="20">[table]</text><text x="4" y="47">...</text><text x="4" y="71">&lt; 2</text><text class="e" x="191" y="71">86,589,024 rows</text></g>
<g transform="translate(826.6,3066.7)"><rect width="333.2" height="77" class="wh"/><rect width="333.2" height="29" class="hd"/><path class="ln" d="M0 29H333.2M0 53H333.2M109 53V77M275.5 53V77"/><rect width="333.2" height="77" class="bx"/><text class="b" x="7" y="19">wos_reprint_address_organizations</text><text class="e" x="328" y="20">[table]</text><text x="4" y="47">...</text><text x="4" y="71">&lt; 2</text><text class="e" x="272" y="71">130,387,024 rows</text></g>
<g transform="translate(812.4,3172)"><rect width="359.6" height="77" class="wh"/><rect width="359.6" height="29" class="hd"/><path class="ln" d="M0 29H359.6M0 53H359.6M128.4 53V77M294.5 53V77"/><rect width="359.6" height="77" class="bx"/><text class="b" x="7" y="19">wos_reprint_address_suborganizations</text><text class="e" x="355" y="20">[table]</text><text x="4" y="47">...</text><text x="4" y="71">&lt; 2</text><text class="e" x="291" y="71">62,860,676 rows</text></g>
<g transform="translate(868,3276.7)"><rect width="250" height="77" class="wh"/><rect width="250" height="29" class="hd"/><path class="ln" d="M0 29H250M0 53H250M72.7 53V77M211.4 53V77"/><rect width="250" height="77" class="bx"/><text class="b" x="7" y="19">wos_reprint_address_zip</text><text class="e" x="245" y="20">[table]</text><text x="4" y="47">...</text><text x="4" y="71">&lt; 2</text><text class="e" x="208" y="71">50,943,132 rows</text></g>
<g transform="translate(854,3382.5)"><rect width="279" height="77" class="wh"/><rect width="279" height="29" class="hd"/><path class="ln" d="M0 29H279M0 53H279M80.7 53V77M223.7 53V77"/><rect width="279" height="77" class="bx"/><text class="b" x="7" y="19">wos_reprint_address_names</text><text class="e" x="274" y="20">[table]</text><text x="4" y="47">...</text><text x="4" y="71">&lt; 2</text><text class="e" x="220" y="71">61,046,468 rows</text><text class="e" x="275" y="71">3 &gt;</text></g>
<g transform="translate(831,4044.9)"><rect width="323.7" height="77" class="wh"/><rect width="323.7" height="29" class="hd"/><path class="ln" d="M0 29H323.7M0 53H323.7M109.5 53V77M266.7 53V77"/><rect width="323.7" height="77" class="bx"/><text class="b" x="7" y="19">wos_summary_names_email_addr</text><text class="e" x="318" y="20">[table]</text><text x="4" y="47">...</text><text x="4" y="71">&lt; 2</text><text class="e" x="263" y="71">57,001,184 rows</text></g>

<text x="16" y="4370">Generated by SchemaSpy</text>
</svg>
</body></html>
